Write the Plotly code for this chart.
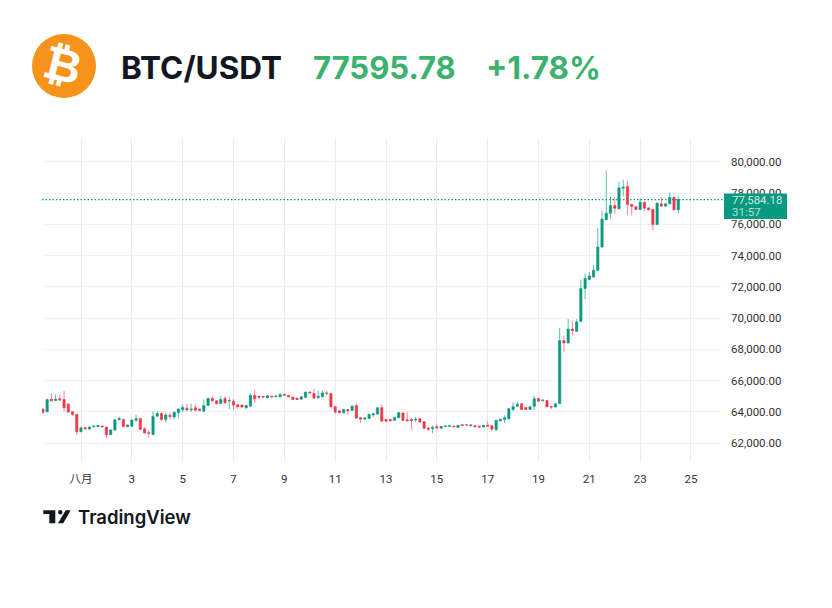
import pandas as pd
import plotly.graph_objects as go

W = 832
H = 608

open_ = [64170, 64000, 64810, 64720, 64830, 64790, 64490, 64000, 63830, 62720, 62980, 62890, 63040, 63060, 63080, 63020,
         62530, 62830, 63490, 63510, 63040, 63080, 63450, 63570, 62910, 62660, 62550, 63720, 63890, 63510, 63770, 63660,
         63940, 64130, 64230, 64130, 64260, 64170, 64040, 64400, 64850, 64700, 64530, 64850, 64700, 64680, 64450, 64430,
         64260, 64360, 65040, 65000, 64980, 64900, 65000, 64960, 64960, 65110, 65060, 64940, 64870, 64810, 64920, 65260,
         65170, 64900, 64960, 65210, 65170, 64320, 64060, 63940, 64150, 64090, 64400, 63620, 63530, 63570, 63810, 63850,
         64260, 63510, 63510, 63450, 63620, 63920, 63490, 63510, 63470, 63550, 63360, 62960, 62910, 63040, 62940, 63060,
         63080, 63080, 63000, 63170, 63170, 63110, 63110, 63080, 63020, 63130, 63110, 62870, 63420, 63510, 63550, 64150,
         64360, 64510, 64280, 64150, 64360, 64850, 64700, 64720, 64340, 64300, 64530, 68560, 68410, 69300, 69150, 69790,
         71900, 72480, 72630, 73060, 74550, 76300, 76720, 77210, 77000, 78320, 78430, 77280, 77130, 76960, 77420, 77060,
         76960, 76000, 77320, 77170, 77320, 77740, 76940]
high = [64200, 64830, 65170, 65110, 65080, 65340, 64570, 64040, 63870, 63080, 63040, 63060, 63110, 63150, 63130, 63040,
        62870, 63530, 63680, 63550, 63190, 63510, 63810, 63600, 63000, 62830, 64040, 64040, 64000, 63940, 63940, 64040,
        64210, 64470, 64530, 64530, 64470, 64230, 64790, 64900, 65020, 64740, 65000, 65000, 64960, 64830, 64470, 64470,
        64450, 65210, 65380, 65040, 65040, 65080, 65040, 65040, 65210, 65150, 65080, 64960, 64900, 65000, 65300, 65300,
        65470, 65380, 65380, 65320, 65210, 64360, 64110, 64190, 64190, 64400, 64510, 63660, 63640, 63870, 63920, 64300,
        64470, 63550, 63570, 63680, 64000, 63940, 63980, 63600, 63660, 63600, 63400, 63000, 63130, 63190, 63100, 63130,
        63170, 63110, 63150, 63190, 63190, 63230, 63150, 63110, 63150, 63400, 63130, 63490, 63570, 63770, 64230, 64620,
        64620, 64560, 64300, 64360, 65040, 64900, 64790, 64750, 64360, 64530, 69370, 68880, 69940, 69830, 69940, 72460,
        72850, 72960, 73420, 75770, 76890, 79450, 77790, 77740, 78740, 78870, 78810, 77320, 77170, 77640, 77470, 77100,
        77000, 77400, 77740, 77360, 78060, 77780, 77810]
low = [63940, 63960, 64680, 64680, 64700, 63980, 63940, 63720, 62500, 62700, 62870, 62870, 63020, 63040, 63000, 62320,
       62510, 62810, 63470, 63020, 63020, 63060, 63360, 62850, 62600, 62340, 62490, 63700, 63400, 63340, 63510, 63510,
       63620, 63980, 64040, 63980, 64040, 64040, 64000, 64360, 64660, 64470, 64490, 64510, 64150, 64150, 64190, 64260,
       64190, 64340, 64580, 64790, 64900, 64850, 64920, 64940, 64920, 65040, 64920, 64750, 64770, 64770, 64900, 65190,
       64850, 64850, 64920, 65040, 64260, 63890, 63900, 63900, 63830, 64060, 63570, 63280, 63490, 63550, 63660, 63830,
       63360, 63340, 63380, 63420, 63600, 63400, 63400, 62870, 63340, 63300, 62890, 62770, 62620, 62810, 62920, 63040,
       63060, 63020, 62980, 63110, 63110, 63060, 63020, 62980, 63000, 63060, 62720, 62760, 63400, 63280, 63510, 64040,
       64320, 64110, 64110, 64110, 64110, 64640, 64680, 64300, 64170, 64280, 64480, 67810, 68380, 68900, 69130, 69770,
       71220, 72430, 72600, 73030, 74520, 76280, 76340, 76680, 76980, 77800, 76570, 76570, 76900, 76940, 76850, 76900,
       75610, 75960, 77130, 77130, 77300, 76900, 76720]
close = [63960, 64790, 64700, 64810, 64750, 64260, 63980, 63830, 62720, 62960, 62910, 63020, 63080, 63110, 63040, 62530,
         62830, 63490, 63570, 63040, 63150, 63470, 63550, 62870, 62640, 62620, 63700, 63890, 63510, 63790, 63700, 63960,
         64170, 64280, 64110, 64170, 64090, 64090, 64400, 64850, 64700, 64510, 64790, 64580, 64720, 64430, 64320, 64300,
         64400, 65040, 64830, 64940, 64940, 65020, 64960, 65000, 65090, 65060, 64960, 64790, 64790, 64960, 65260, 65210,
         64870, 65000, 65210, 65170, 64320, 63980, 63940, 64150, 64060, 64360, 63600, 63530, 63600, 63830, 63870, 64260,
         63400, 63400, 63420, 63640, 63940, 63450, 63420, 63450, 63510, 63340, 62940, 62890, 63000, 62980, 63060, 63080,
         63110, 63040, 63130, 63130, 63150, 63150, 63040, 63020, 63130, 63080, 62890, 63450, 63510, 63620, 64190, 64320,
         64490, 64150, 64150, 64320, 64830, 64680, 64750, 64320, 64300, 64510, 68560, 68410, 69300, 69200, 69750, 71900,
         72530, 72700, 73060, 74550, 76340, 76720, 77210, 77040, 78340, 78380, 77280, 77150, 76960, 77420, 77040, 76940,
         76000, 77360, 77170, 77320, 77740, 76940, 77595]

last_price = 77584.18
y_ticks = [62000, 64000, 66000, 68000, 70000, 72000, 74000, 76000, 78000, 80000]
x_days = [1, 3, 5, 7, 9, 11, 13, 15, 17, 19, 21, 23, 25]
x_labels = ['八月', '3', '5', '7', '9', '11', '13', '15', '17', '19', '21', '23', '25']

GREEN = '#089981'
RED = '#F23645'
TEXT_GREEN = '#3BB26E'
FONT = "Roboto, 'Noto Sans CJK SC', sans-serif"


def px(x):
    return x / W


def py(y):
    return 1 - y / H


def page_text(x, y, text, size, color, anchor='left', weight=400, family="Inter, sans-serif", angle=0):
    return dict(text=text, x=px(x), y=py(y), xref='paper', yref='paper', showarrow=False,
                xanchor=anchor, yanchor='middle', textangle=angle,
                font=dict(size=size, color=color, family=family, weight=weight))


def path(points):
    return 'M ' + ' L '.join(f'{px(a):.5f} {py(b):.5f}' for a, b in points) + ' Z'


times = pd.date_range('2024-07-30 12:00', periods=len(open_), freq='4h')
tick_dates = [f'2024-08-{d:02d}' for d in x_days]

fig = go.Figure(go.Candlestick(
    x=times, open=open_, high=high, low=low, close=close,
    increasing=dict(line=dict(color='rgba(8,153,129,0.65)', width=1), fillcolor=GREEN),
    decreasing=dict(line=dict(color='rgba(242,54,69,0.6)', width=1), fillcolor=RED),
    whiskerwidth=0,
    showlegend=False,
))

shapes = [
    # price line
    dict(type='line', xref='paper', yref='y', x0=px(42), x1=px(724), y0=last_price, y1=last_price,
         line=dict(color=GREEN, width=1.2, dash='1.5px,2px')),
    # last price label
    dict(type='rect', xref='paper', yref='paper', x0=px(724), x1=px(787), y0=py(219), y1=py(193.5),
         fillcolor=GREEN, line=dict(width=0)),
    # bitcoin logo
    dict(type='circle', xref='paper', yref='paper', x0=px(32), x1=px(96), y0=py(98), y1=py(34),
         fillcolor='#F7931A', line=dict(width=0)),
    # tradingview mark
    dict(type='path', xref='paper', yref='paper', fillcolor='#131722', line=dict(width=0),
         path=path([(43.3, 510.3), (55.3, 510.3), (55.3, 523.3), (49.3, 523.3), (49.3, 514), (43.3, 514)])),
    dict(type='circle', xref='paper', yref='paper', x0=px(58.1), x1=px(62.5), y0=py(514.5), y1=py(510.1),
         fillcolor='#131722', line=dict(width=0)),
    dict(type='path', xref='paper', yref='paper', fillcolor='#131722', line=dict(width=0),
         path=path([(65.7, 510.3), (70.7, 510.3), (63.3, 523.3), (58, 523.3)])),
]

annotations = [
    page_text(63, 65, '₿', 46, 'white', 'center', 700, "'DejaVu Sans', sans-serif", 14),
    page_text(119, 67, 'BTC/USDT', 31.5, '#131722', weight=700),
    page_text(311, 67, '77595.78', 31, TEXT_GREEN, weight=700),
    page_text(484, 67, '+1.78%', 31.5, TEXT_GREEN, weight=700),
    page_text(729.5, 199.5, '77,584.18', 11.5, 'rgba(255,255,255,0.8)', family=FONT),
    page_text(729.5, 212, '31:57', 11.5, 'rgba(255,255,255,0.7)', family=FONT),
    page_text(76, 517, 'TradingView', 18.5, '#131722', weight=600),
]

fig.update_layout(
    width=W, height=H,
    autosize=False,
    margin=dict(l=0, r=0, t=0, b=0),
    paper_bgcolor='white',
    plot_bgcolor='white',
    boxgap=0.25,
    shapes=shapes,
    annotations=annotations,
    font=dict(family=FONT, size=11.5, color='#333'),
    xaxis=dict(
        domain=[px(42), px(721)],
        range=['2024-07-30 11:10', '2024-08-26 04:20'],
        rangeslider=dict(visible=False),
        tickmode='array', tickvals=tick_dates, ticktext=x_labels,
        showgrid=True, gridcolor='#EDEDF0', gridwidth=1,
        zeroline=False, showline=False, ticks='',
        ticklabelstandoff=8,
    ),
    yaxis=dict(
        domain=[py(462), py(138)],
        range=[60783, 81537],
        side='right',
        tickmode='array', tickvals=y_ticks,
        ticktext=[f'{v:,.2f}' for v in y_ticks],
        showgrid=True, gridcolor='#F0F1F4', gridwidth=1,
        zeroline=False, showline=False, ticks='',
        ticklabelstandoff=9,
    ),
)

fig.write_html('out.html', config=dict(displayModeBar=False),
               post_script="document.body.style.margin='0';window.dispatchEvent(new Event('resize'));")
